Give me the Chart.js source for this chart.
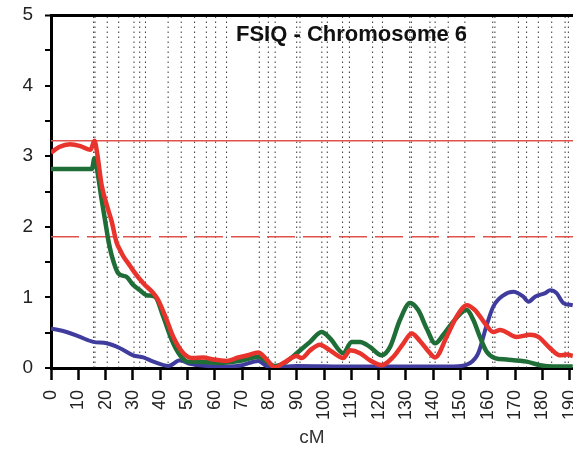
<!DOCTYPE html>
<html>
<head>
<meta charset="utf-8">
<script src="https://cdn.jsdelivr.net/npm/chart.js@4/dist/chart.umd.min.js"></script>
<style>
    html, body { margin: 0; padding: 0; background: #fff; overflow: hidden; }
    #wrap { width: 573px; height: 457px; }
</style>
</head>
<body>
<div id="wrap"><canvas id="lodChart" width="573" height="457"></canvas></div>
<script>
// red trace
const redCm = [0, 3, 7, 11, 14.5, 15.9, 17, 18.5, 20.5, 22.2, 24, 25.3, 26.5, 28, 30.1, 33.8, 37.5, 39.3, 42.4, 44.8,
    48.5, 52.1, 55.8, 59.5, 64.4, 68.6, 72, 75.9, 79, 82, 85.1, 90, 91.8, 94.9, 98.5, 102.2, 107.1, 109.5, 113.2, 116.8,
    121.1, 125.4, 129.1, 132.1, 135.2, 138.8, 140.7, 144.9, 148.6, 152.3, 155.3, 159, 162, 164.5, 170.6, 175.5, 178.5,
    182.8, 186.4, 189, 191.1];
const redLod = [3.05, 3.13, 3.17, 3.14, 3.09, 3.22, 3.02, 2.6, 2.3, 2.08, 1.78, 1.67, 1.58, 1.5, 1.38, 1.2, 1.06, 0.96, 0.68, 0.44,
    0.21, 0.14, 0.15, 0.12, 0.1, 0.15, 0.18, 0.22, 0.12, 0.01, 0.07, 0.17, 0.14, 0.25, 0.33, 0.25, 0.14, 0.25, 0.21, 0.11,
    0.04, 0.16, 0.35, 0.49, 0.38, 0.21, 0.15, 0.44, 0.73, 0.89, 0.82, 0.63, 0.51, 0.54, 0.44, 0.47, 0.44,
    0.28, 0.18, 0.19, 0.17];

// green trace
const greenCm = [0, 15, 15.9, 16.7, 18.5, 20.4, 21, 22.2, 24.7, 27.7, 30, 32.6, 35, 38.1, 41.1, 44.2, 47.3, 50.3, 54.6, 60.7,
    66.8, 70.4, 75.9, 79, 82, 86.3, 90, 94.9, 99.1, 102.2, 107.1, 110.1, 113.2, 116.8, 121.1, 124.2, 127.8, 131.5, 134.5,
    137.6, 140.7, 143.7, 147.4, 152.3, 154.7, 157.1, 159.6, 162.6, 166.9, 174.2, 179.1, 184, 191.1];
const greenLod = [2.82, 2.82, 2.97, 2.85, 2.4, 1.95, 1.81, 1.6, 1.34, 1.29, 1.18, 1.1, 1.03, 1.01, 0.73, 0.4, 0.18, 0.09, 0.09, 0.07,
    0.09, 0.11, 0.16, 0.09, 0.03, 0.09, 0.21, 0.37, 0.51, 0.42, 0.21, 0.37, 0.37, 0.3, 0.18, 0.3, 0.68, 0.92, 0.82,
    0.56, 0.35, 0.47, 0.66, 0.82, 0.68, 0.44, 0.23, 0.14, 0.12, 0.09, 0.04, 0.02, 0.02];

// blue trace
const blueCm = [0, 5.7, 10.6, 15.5, 20.4, 25.3, 30.1, 33.8, 37.5, 43, 47.3, 50.9, 57, 65, 70, 75.9, 80, 90, 110, 135,
    147.4, 153.5, 156.5, 159.6, 162, 165.7, 169.4, 173, 174.9, 177.3, 181, 182.8, 185.2, 187.7, 191.1];
const blueLod = [0.56, 0.51, 0.44, 0.37, 0.35, 0.28, 0.18, 0.15, 0.09, 0.03, 0.11, 0.06, 0.03, 0.02, 0.04, 0.1, 0.01, 0.03, 0.02, 0.02,
    0.02, 0.07, 0.21, 0.61, 0.87, 1.03, 1.08, 1.01, 0.94, 1.01, 1.06, 1.1, 1.06, 0.92, 0.89];

// thresholds
const significantLod = 3.22;
const suggestiveLod = 1.86;

// marker positions (dotted verticals)
const markerCm = [15.6, 16.1, 20.6, 24.8, 30.4, 32.5, 34.6, 42.9, 47.7, 52.6, 56.9, 60.3, 64.3, 76.3, 79.6, 82.1,
    90.0, 91.2, 99.2, 101.2, 106.8, 109.3, 117.8, 121.4, 131.4, 132.0, 138.8, 140.7, 145.5, 151.6, 161.8, 162.6,
    171.2, 174.2, 178.5, 183.4, 188.3, 189.5];

const xMin = 0;
const xMax = 191.2;
const yMin = 0;
const yMax = 5;

const pairs = (xs, ys) => xs.map((x, i) => ({ x, y: ys[i] }));

const textPlugin = {
    id: 'plotText',
    afterDatasetsDraw(chart) {
        const { ctx, chartArea } = chart;
        ctx.save();
        ctx.fillStyle = '#111';
        ctx.font = 'bold 22px "Liberation Sans", Arial, sans-serif';
        ctx.textAlign = 'left';
        ctx.textBaseline = 'alphabetic';
        ctx.fillText('FSIQ - Chromosome 6', chartArea.left + 185, chartArea.top + 26);
        ctx.restore();
    }
};

new Chart(document.getElementById('lodChart'), {
    type: 'line',
    data: {
        datasets: [
            {
                label: 'red',
                data: pairs(redCm, redLod),
                borderColor: '#e8342c',
                borderWidth: 4.5,
                cubicInterpolationMode: 'monotone',
                pointRadius: 0
            },
            {
                label: 'green',
                data: pairs(greenCm, greenLod),
                borderColor: '#1f6d37',
                borderWidth: 4.5,
                cubicInterpolationMode: 'monotone',
                pointRadius: 0
            },
            {
                label: 'blue',
                data: pairs(blueCm, blueLod),
                borderColor: '#3f3c9e',
                borderWidth: 4,
                cubicInterpolationMode: 'monotone',
                pointRadius: 0
            },
            {
                label: 'significant',
                data: [{ x: xMin, y: significantLod }, { x: xMax, y: significantLod }],
                borderColor: '#e0524a',
                borderWidth: 1.5,
                pointRadius: 0
            },
            {
                label: 'suggestive',
                data: [{ x: xMin, y: suggestiveLod }, { x: xMax, y: suggestiveLod }],
                borderColor: '#e0524a',
                borderWidth: 1.5,
                borderDash: [28, 8],
                pointRadius: 0
            },
            {
                label: 'markers',
                data: markerCm.flatMap(m => [{ x: m, y: yMin }, { x: m, y: yMax }, { x: m, y: null }]),
                borderColor: 'rgba(20, 20, 20, 0.85)',
                borderWidth: 1,
                borderDash: [1.5, 3.5],
                pointRadius: 0,
                spanGaps: false
            }
        ]
    },
    options: {
        responsive: false,
        animation: false,
        events: [],
        layout: { padding: { top: 15, right: 0, bottom: 0, left: 0 } },
        plugins: { legend: { display: false }, tooltip: { enabled: false } },
        scales: {
            x: {
                type: 'linear',
                min: xMin,
                max: xMax,
                afterFit(scale) {
                    scale.height = 89;
                    scale.paddingRight = 0;
                    scale.paddingLeft = 0;
                },
                border: { color: '#000', width: 3 },
                grid: { drawOnChartArea: false, tickColor: '#000', tickWidth: 2.5, tickLength: 12 },
                ticks: {
                    stepSize: 10,
                    includeBounds: false,
                    autoSkip: false,
                    minRotation: 90,
                    maxRotation: 90,
                    padding: 10,
                    color: '#222',
                    font: { family: '"Liberation Sans", Arial, sans-serif', size: 18 }
                },
                title: {
                    display: true,
                    text: 'cM',
                    color: '#333',
                    padding: { top: 0, bottom: 8 },
                    font: { family: '"Liberation Sans", Arial, sans-serif', size: 19 }
                }
            },
            y: {
                min: yMin,
                max: yMax,
                afterFit(scale) {
                    scale.width = 51;
                    scale.paddingTop = 0;
                    scale.paddingBottom = 0;
                },
                border: { color: '#000', width: 3 },
                grid: {
                    drawOnChartArea: true,
                    color: c => (c.tick && c.tick.value === yMax ? '#000' : 'rgba(0,0,0,0)'),
                    lineWidth: c => (c.tick && c.tick.value === yMax ? 3 : 0),
                    tickColor: '#000',
                    tickWidth: 2,
                    tickLength: 6
                },
                ticks: {
                    stepSize: 0.5,
                    padding: 12,
                    color: '#222',
                    font: { family: '"Liberation Sans", Arial, sans-serif', size: 19 },
                    callback: v => (Number.isInteger(v) ? String(v) : '')
                }
            }
        }
    },
    plugins: [textPlugin]
});
</script>
</body>
</html>
